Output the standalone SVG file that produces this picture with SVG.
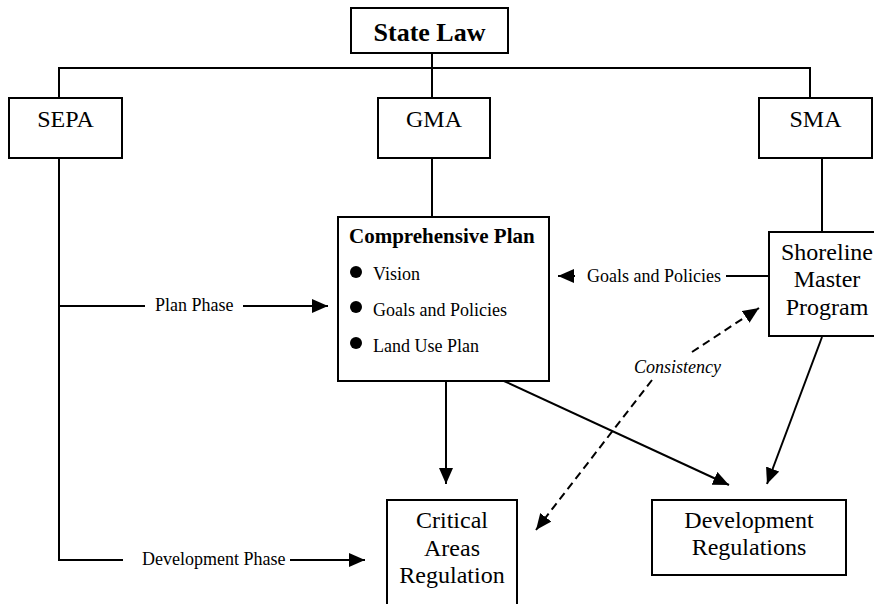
<svg xmlns="http://www.w3.org/2000/svg" width="874" height="604" viewBox="0 0 874 604">
<style>
.box{fill:#fff;stroke:#000;stroke-width:2}
.ln{fill:none;stroke:#000;stroke-width:2}
.dash{fill:none;stroke:#000;stroke-width:2;stroke-dasharray:8 5}
text{font-family:"Liberation Serif","Times New Roman",serif;fill:#000}
.t24{font-size:24px;text-anchor:middle}
.t18{font-size:18px}
.b{font-weight:bold}
.i{font-style:italic}
</style>
<defs>
<marker id="ah" viewBox="0 0 16 14" refX="16" refY="7" markerWidth="16" markerHeight="14" markerUnits="userSpaceOnUse" orient="auto">
<path d="M0,0 L16,7 L0,14 z" fill="#000"/>
</marker>
</defs>
<rect width="874" height="604" fill="#fff"/>
<g id="connectors">
<path class="ln" d="M432,53 V98"/>
<path class="ln" d="M59,98 V68 H810 V98"/>
<path class="ln" d="M432,158 V217"/>
<path class="ln" d="M822,158 V232"/>
<path class="ln" d="M59,158 V560 H123"/>
<path class="ln" d="M59,306 H145"/>
<path class="ln" d="M243,306 H328" marker-end="url(#ah)"/>
<path class="ln" d="M290,560 H365" marker-end="url(#ah)"/>
<path class="ln" d="M769,276 H726"/>
<path class="ln" d="M575,276 H558" marker-end="url(#ah)"/>
<path class="ln" d="M446,381 V484" marker-end="url(#ah)"/>
<path class="ln" d="M504,381 L729,485" marker-end="url(#ah)"/>
<path class="ln" d="M822,337 L767,484" marker-end="url(#ah)"/>
<path class="dash" d="M692,352 L759,308" marker-end="url(#ah)"/>
<path class="dash" d="M652,380 L536,530" marker-end="url(#ah)"/>
<text class="t18" x="155" y="311">Plan Phase</text>
<text class="t18" x="142" y="565">Development Phase</text>
<text class="t18" x="587" y="282">Goals and Policies</text>
<text class="t18 i" x="634" y="373">Consistency</text>
</g>
<g id="state-law">
<rect class="box" x="351" y="8" width="157" height="45"/>
<text class="t24 b" x="429.5" y="41" style="font-size:26px">State Law</text>
</g>
<g id="sepa">
<rect class="box" x="9" y="98" width="113" height="60"/>
<text class="t24" x="65.5" y="127">SEPA</text>
</g>
<g id="gma">
<rect class="box" x="378" y="98" width="112" height="60"/>
<text class="t24" x="434" y="127">GMA</text>
</g>
<g id="sma">
<rect class="box" x="759" y="98" width="113" height="60"/>
<text class="t24" x="815.5" y="127">SMA</text>
</g>
<g id="comprehensive-plan">
<rect class="box" x="338" y="217" width="211" height="164"/>
<text class="b" x="349" y="243" style="font-size:21px">Comprehensive Plan</text>
<circle cx="356" cy="272" r="6"/>
<text class="t18" x="373" y="280">Vision</text>
<circle cx="356" cy="307" r="6"/>
<text class="t18" x="373" y="316">Goals and Policies</text>
<circle cx="356" cy="343" r="6"/>
<text class="t18" x="373" y="352">Land Use Plan</text>
</g>
<g id="shoreline-master-program">
<rect class="box" x="769" y="232" width="116" height="104"/>
<text class="t24" x="827" y="260">Shoreline</text>
<text class="t24" x="827" y="287">Master</text>
<text class="t24" x="827" y="315">Program</text>
</g>
<g id="critical-areas-regulation">
<rect class="box" x="387" y="500" width="130" height="110"/>
<text class="t24" x="452" y="528">Critical</text>
<text class="t24" x="452" y="556">Areas</text>
<text class="t24" x="452" y="583">Regulation</text>
</g>
<g id="development-regulations">
<rect class="box" x="652" y="500" width="194" height="75"/>
<text class="t24" x="749" y="528">Development</text>
<text class="t24" x="749" y="555">Regulations</text>
</g>
</svg>
